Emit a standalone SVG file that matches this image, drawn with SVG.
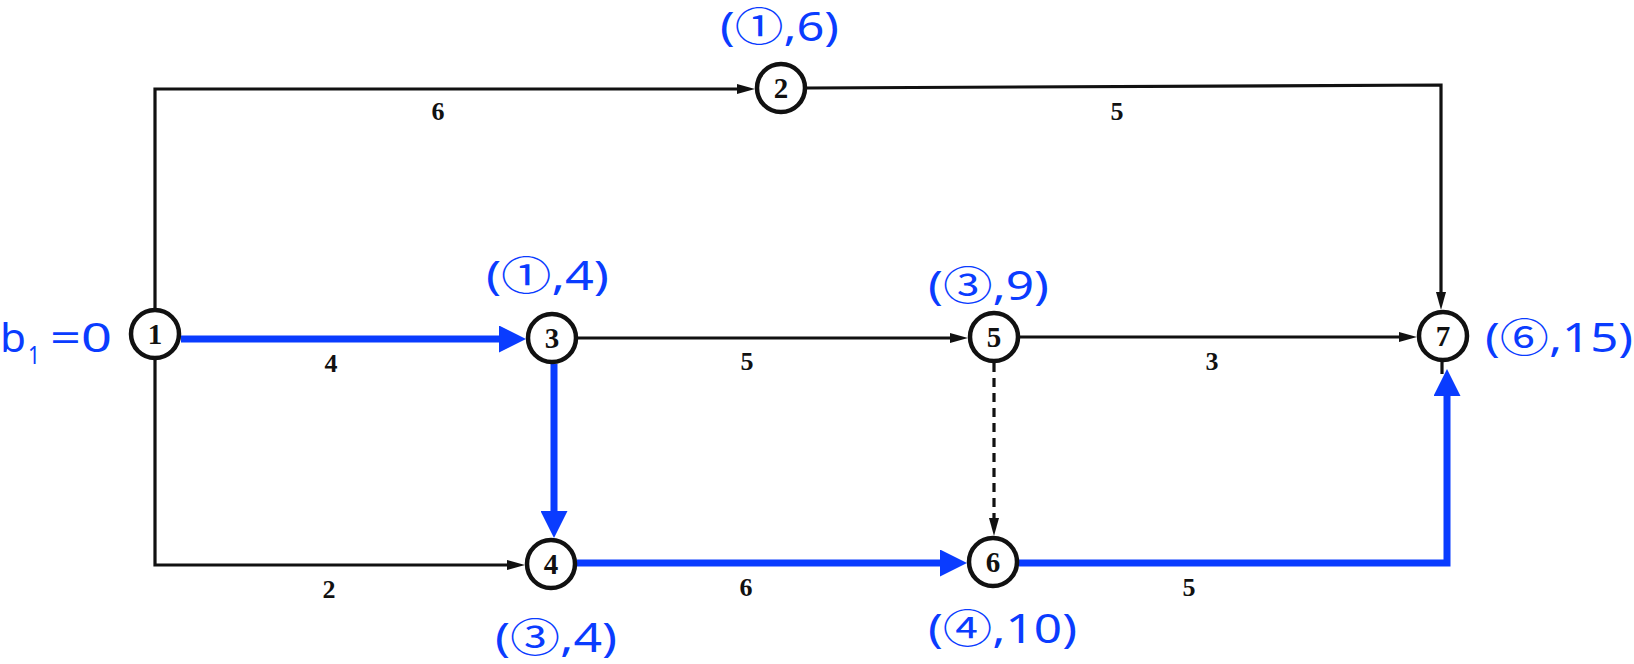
<svg xmlns="http://www.w3.org/2000/svg" width="1634" height="664" viewBox="0 0 1634 664">
<style>
.edge{fill:none;stroke:#111;stroke-width:3.2}
.dash{stroke-dasharray:9 6}
.crit{fill:none;stroke:#0a3cff;stroke-width:7;stroke-linejoin:miter}
.node circle{fill:#fff;stroke:#111;stroke-width:4.5}
.node text{font-family:"Liberation Serif",serif;font-weight:bold;font-size:29px;fill:#111;text-anchor:middle}
.w{font-family:"Liberation Serif",serif;font-weight:bold;font-size:26px;fill:#111;text-anchor:middle}
.lab{font-family:"Noto Sans","Noto Sans CJK SC",sans-serif;font-size:40px;fill:#0a3cff}
</style>
<defs>
<marker id="ak" markerUnits="userSpaceOnUse" markerWidth="18" markerHeight="10" refX="0" refY="5" orient="auto"><path d="M0,0 L18,5 L0,10 z" fill="#111"/></marker>
<marker id="ab" markerUnits="userSpaceOnUse" markerWidth="27" markerHeight="27" refX="0" refY="13.5" orient="auto"><path d="M0,0 L27,13.5 L0,27 z" fill="#0a3cff"/></marker>
</defs>
<g id="connectors">
<path class="edge" d="M155,310 V89 H737" marker-end="url(#ak)"/>
<path class="edge" d="M807,88 L1441,85 V292" marker-end="url(#ak)"/>
<path class="edge" d="M578,338 H950" marker-end="url(#ak)"/>
<path class="edge" d="M1020,337 H1399" marker-end="url(#ak)"/>
<path class="edge" d="M155,358 V565 H507" marker-end="url(#ak)"/>
<path class="edge dash" d="M994,363 V518" marker-end="url(#ak)"/>
<path class="edge" d="M1442,360 V374"/>
<path class="crit" d="M181,339 H499" marker-end="url(#ab)"/>
<path class="crit" d="M554,364 V511" marker-end="url(#ab)"/>
<path class="crit" d="M577,563 H940" marker-end="url(#ab)"/>
<path class="crit" d="M1019,563 H1447 V396" marker-end="url(#ab)"/>
<text class="w" x="438" y="120">6</text>
<text class="w" x="1117" y="120">5</text>
<text class="w" x="331" y="372">4</text>
<text class="w" x="747" y="370">5</text>
<text class="w" x="1212" y="370">3</text>
<text class="w" x="329" y="598">2</text>
<text class="w" x="746" y="596">6</text>
<text class="w" x="1189" y="596">5</text>
</g>
<g id="n1" class="node"><circle cx="155" cy="334" r="24"/><text x="155" y="344">1</text></g>
<g id="n2" class="node"><circle cx="781" cy="88" r="24"/><text x="781" y="98">2</text></g>
<g id="n3" class="node"><circle cx="552" cy="338" r="24"/><text x="552" y="348">3</text></g>
<g id="n4" class="node"><circle cx="551" cy="564" r="24"/><text x="551" y="574">4</text></g>
<g id="n5" class="node"><circle cx="994" cy="337" r="24"/><text x="994" y="347">5</text></g>
<g id="n6" class="node"><circle cx="993" cy="562" r="24"/><text x="993" y="572">6</text></g>
<g id="n7" class="node"><circle cx="1443" cy="336" r="24"/><text x="1443" y="346">7</text></g>
<g id="labels">
<text class="lab" x="720" y="41" textLength="119" lengthAdjust="spacingAndGlyphs">(①,6)</text>
<text class="lab" x="486" y="290" textLength="123" lengthAdjust="spacingAndGlyphs">(①,4)</text>
<text class="lab" x="928" y="300" textLength="121" lengthAdjust="spacingAndGlyphs">(③,9)</text>
<text class="lab" x="1485" y="352" textLength="148" lengthAdjust="spacingAndGlyphs">(⑥,15)</text>
<text class="lab" x="495" y="652" textLength="122" lengthAdjust="spacingAndGlyphs">(③,4)</text>
<text class="lab" x="928" y="643" textLength="149" lengthAdjust="spacingAndGlyphs">(④,10)</text>
<text class="lab" x="0" y="352" textLength="26" lengthAdjust="spacingAndGlyphs">b</text>
<text class="lab" x="28" y="364" style="font-size:26px" textLength="12" lengthAdjust="spacingAndGlyphs">1</text>
<text class="lab" x="50" y="352" textLength="62" lengthAdjust="spacingAndGlyphs">=0</text>
</g>
</svg>
